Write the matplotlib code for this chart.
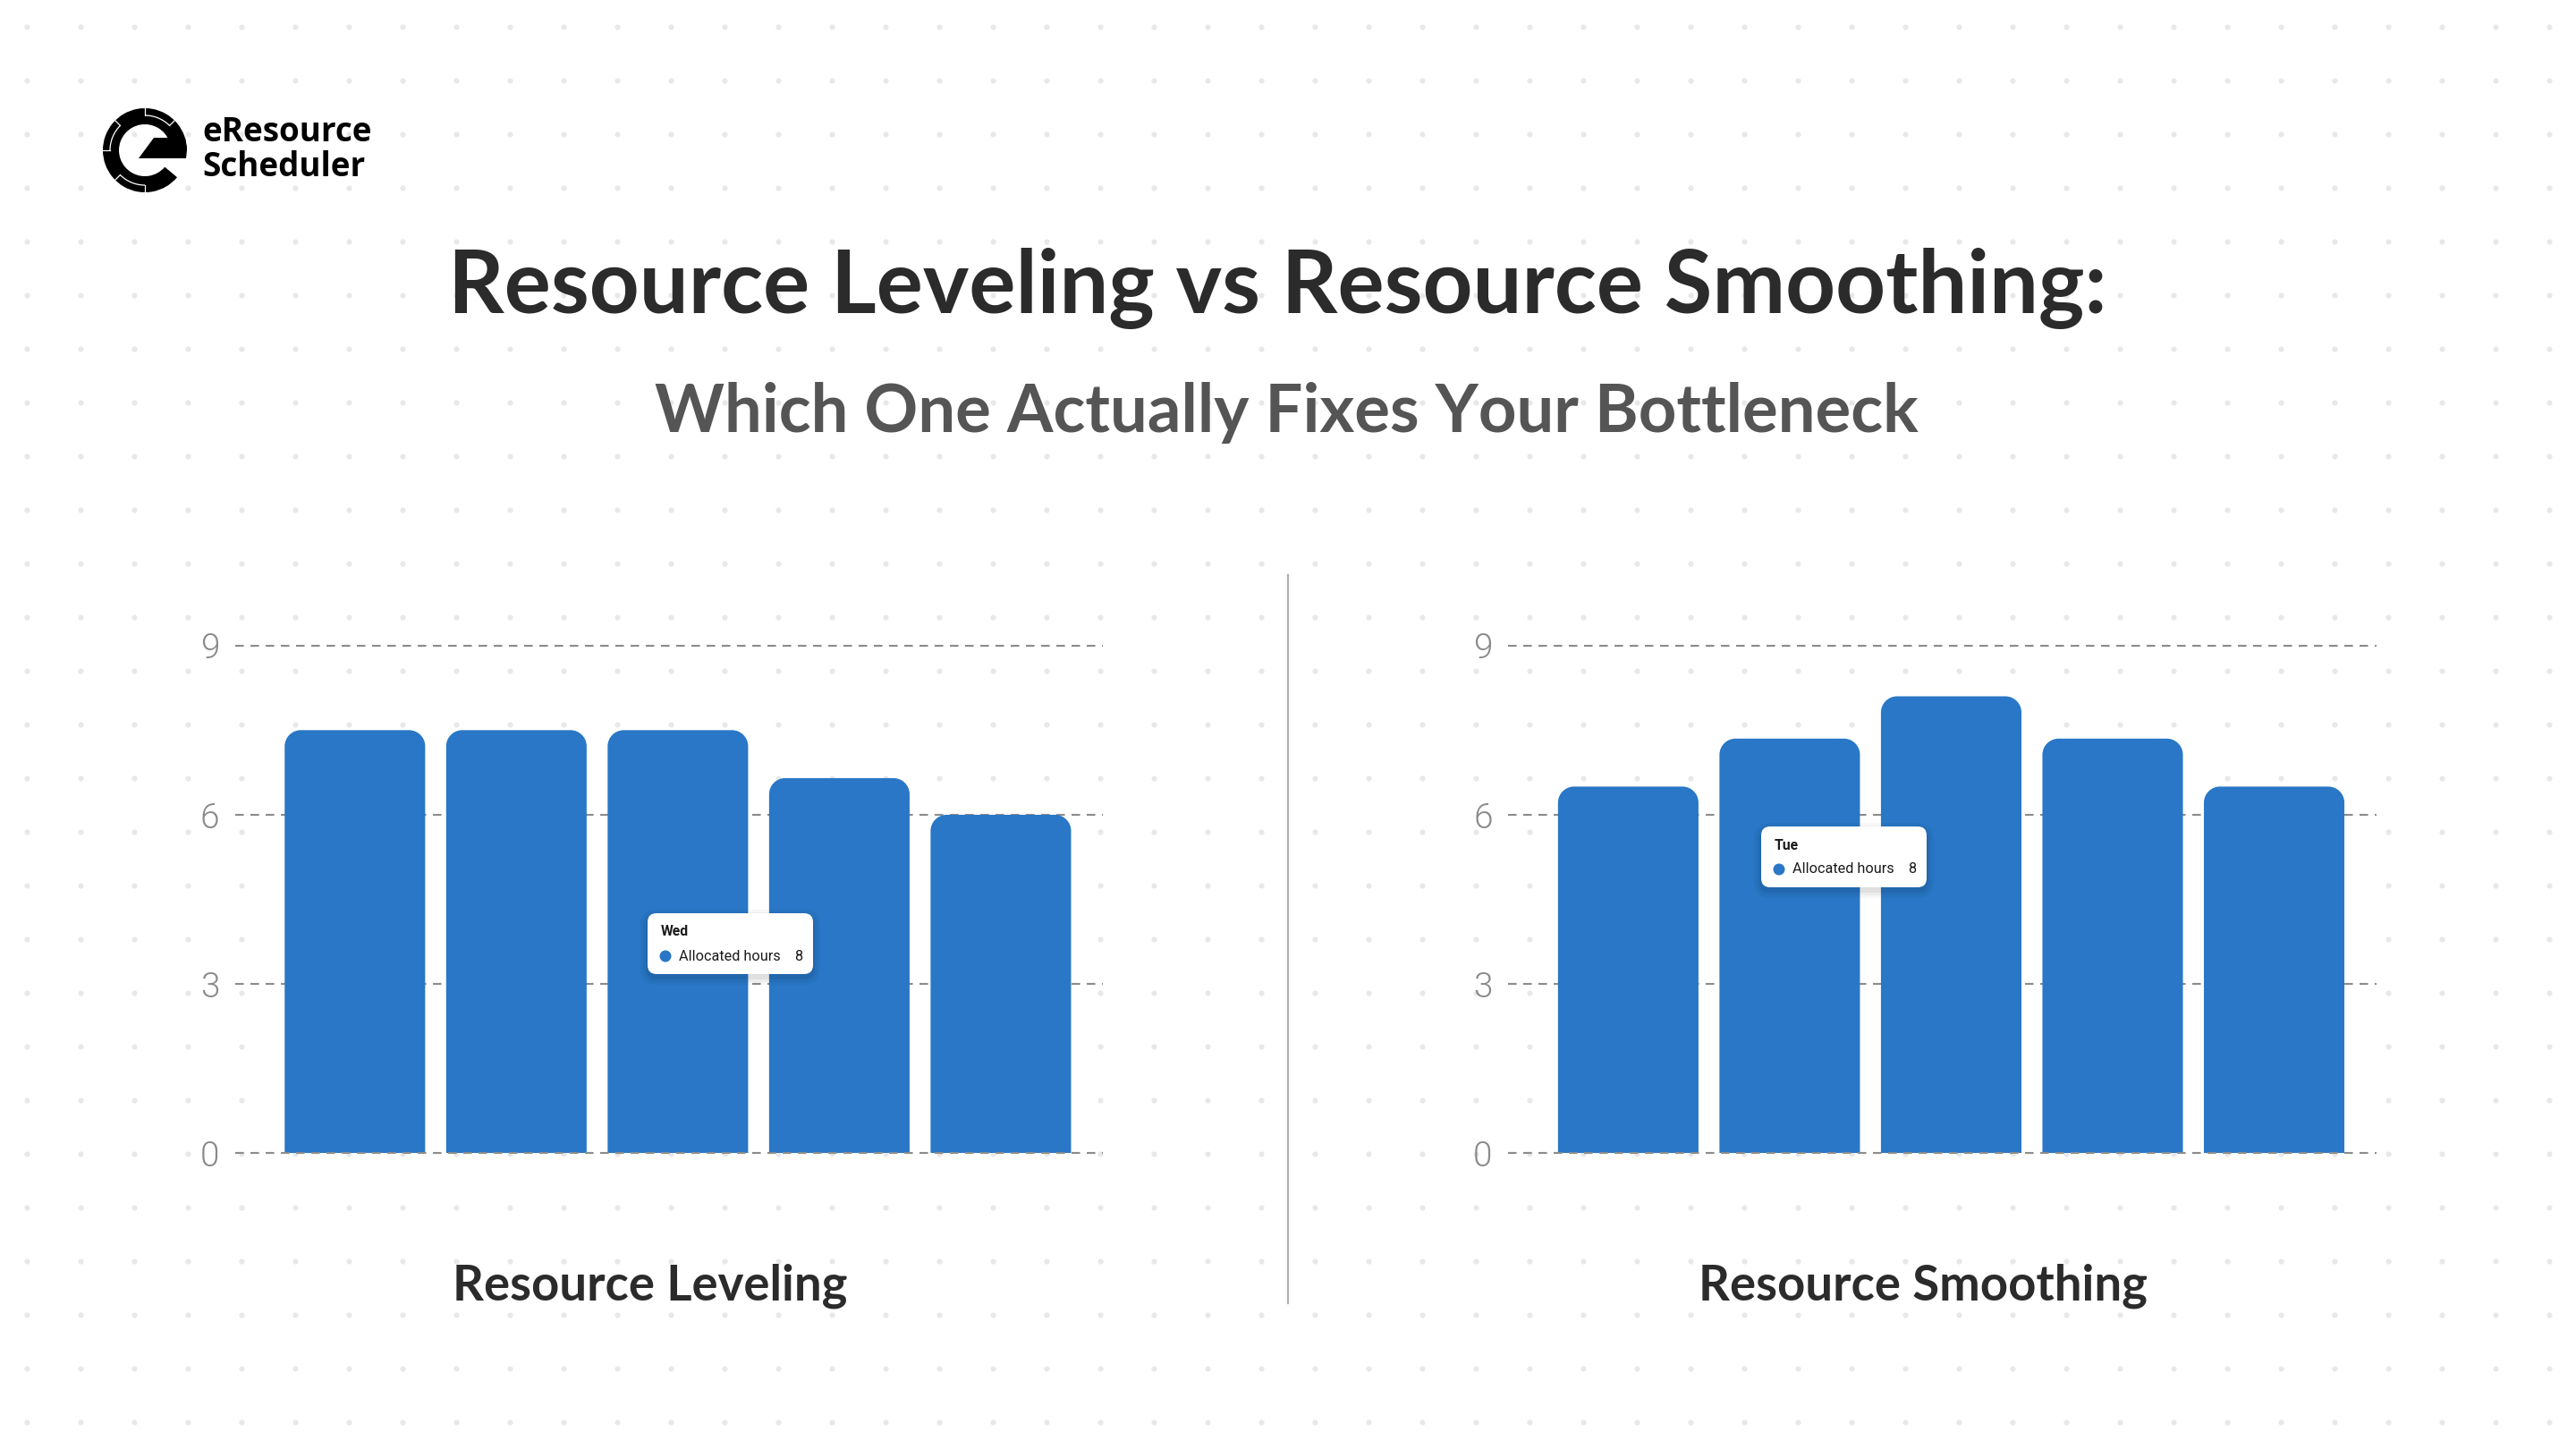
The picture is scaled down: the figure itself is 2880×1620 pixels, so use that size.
import matplotlib
matplotlib.use('Agg')
import matplotlib.pyplot as plt
from matplotlib.patches import FancyBboxPatch, PathPatch, Wedge, Polygon, Arc, Circle
from matplotlib.path import Path
import numpy as np

# data
days = ['Mon', 'Tue', 'Wed', 'Thu', 'Fri']
leveling_hours = [7.5, 7.5, 7.5, 6.65, 6.0]
smoothing_hours = [6.5, 7.35, 8.1, 7.35, 6.5]
y_ticks = [0, 3, 6, 9]
panel_titles = ['Resource Leveling', 'Resource Smoothing']
tooltip_days = ['Wed', 'Tue']
tooltip_values = [8, 8]
series_name = 'Allocated hours'

BLUE = '#2977c6'
GRID = '#8c8c8c'
DARK = '#2b2b2b'
FONT = 'Lato'

W, H = 2880, 1620
fig = plt.figure(figsize=(16, 9), dpi=180)

# background layer in pixel coords (dot grid, logo text, titles)
bg = fig.add_axes([0, 0, 1, 1], zorder=0)
bg.set_xlim(0, W)
bg.set_ylim(H, 0)
bg.axis('off')
gx, gy = np.meshgrid(np.arange(30, W, 60), np.arange(30, H, 60))
bg.scatter(gx.ravel(), gy.ravel(), s=6, color='#e8e8e8', linewidths=0)

bg.text(1428, 322, 'Resource Leveling vs Resource Smoothing:', ha='center', va='center',
        fontsize=39, fontweight='bold', color=DARK, family=FONT)
bg.text(1438, 462, 'Which One Actually Fixes Your Bottleneck', ha='center', va='center',
        fontsize=29.7, fontweight='bold', color='#555555', family=FONT)

bg.text(226, 158, 'eResource', ha='left', va='baseline', fontsize=14.7,
        fontweight='bold', color='black', family='Open Sans')
bg.text(226, 197, 'Scheduler', ha='left', va='baseline', fontsize=14.7,
        fontweight='bold', color='black', family='Open Sans')

# divider between the two charts
bg.plot([1440, 1440], [643, 1457], color='#b0b0b0', lw=0.9)

# logo mark
lg = fig.add_axes([110 / W, 1 - 220 / H, 104 / W, 104 / H], zorder=1)
lg.set_xlim(-52, 52)
lg.set_ylim(-52, 52)
lg.axis('off')
lg.add_patch(Wedge((0, 0), 47, 0, 320, width=18, facecolor='black', edgecolor='none'))
lg.add_patch(Polygon([(10, 14), (45, 14), (47, 0), (46, -9), (-7, -9)],
                     closed=True, facecolor='black', edgecolor='none'))
for a1, a2 in [(45, 90), (135, 180), (225, 270)]:
    lg.add_patch(Arc((0, 0), 78, 78, theta1=a1, theta2=a2, color='white', lw=0.5))
    for a in (a1, a2):
        t = np.radians(a)
        lg.plot([39 * np.cos(t), 47 * np.cos(t)], [39 * np.sin(t), 47 * np.sin(t)],
                color='white', lw=0.5)


def rounded_bars(ax, bars, r_px=18):
    p0 = ax.transData.transform((0, 0))
    p1 = ax.transData.transform((1, 1))
    rx = r_px / abs(p1[0] - p0[0])
    ry = r_px / abs(p1[1] - p0[1])
    k = 0.5523
    for b in bars:
        x0, w, h = b.get_x(), b.get_width(), b.get_height()
        x1 = x0 + w
        verts = [(x0, 0), (x0, h - ry),
                 (x0, h - ry + k * ry), (x0 + rx - k * rx, h), (x0 + rx, h),
                 (x1 - rx, h),
                 (x1 - rx + k * rx, h), (x1, h - ry + k * ry), (x1, h - ry),
                 (x1, 0), (x0, 0)]
        codes = [Path.MOVETO, Path.LINETO, Path.CURVE4, Path.CURVE4, Path.CURVE4,
                 Path.LINETO, Path.CURVE4, Path.CURVE4, Path.CURVE4,
                 Path.LINETO, Path.CLOSEPOLY]
        ax.add_patch(PathPatch(Path(verts, codes), facecolor=BLUE,
                               edgecolor='none', zorder=2))
        b.set_visible(False)


panels = [(0.0912, leveling_hours, 727), (0.5855, smoothing_hours, 2150)]
for (left, hours, cx), title in zip(panels, panel_titles):
    ax = fig.add_axes([left, 0.2041, 0.337, 0.3504], zorder=2)
    ax.patch.set_visible(False)
    ax.set_xlim(-0.743, 4.633)
    ax.set_ylim(0, 9)
    for s in ax.spines.values():
        s.set_visible(False)
    ax.set_xticks([])
    ax.set_yticks(y_ticks)
    ax.set_yticklabels([str(t) for t in y_ticks], family='Roboto', fontweight=300,
                       fontsize=15.5, color='#8a8a8a')
    ax.tick_params(axis='y', length=0, pad=7)
    for t in y_ticks:
        ax.axhline(t, color=GRID, lw=0.85, ls=(0, (4.5, 3.5)),
                   zorder=3 if t == 0 else 1, clip_on=False)
    bars = ax.bar(np.arange(len(days)), hours, width=0.87, color=BLUE)
    rounded_bars(ax, bars)
    bg.text(cx, 1438, title, ha='center', va='center', fontsize=21.8,
            fontweight='bold', color=DARK, family=FONT)

# tooltip overlay
ov = fig.add_axes([0, 0, 1, 1], zorder=5)
ov.set_xlim(0, W)
ov.set_ylim(H, 0)
ov.axis('off')


def tooltip(x, y, day, value):
    w, h = 185, 68
    for i, a in enumerate([0.05, 0.04, 0.03]):
        sp = 2 + 3 * i
        ov.add_patch(FancyBboxPatch((x - sp, y + 4 - sp), w + 2 * sp, h + 2 * sp,
                                    boxstyle='round,pad=0,rounding_size=%d' % (10 + sp),
                                    facecolor='black', edgecolor='none', alpha=a))
    ov.add_patch(FancyBboxPatch((x, y), w, h, boxstyle='round,pad=0,rounding_size=10',
                                facecolor='white', edgecolor='none'))
    ov.text(x + 15, y + 21, day, ha='left', va='center', fontsize=6.3,
            fontweight='bold', color='#1a1a1a', family='Roboto')
    ov.add_patch(Circle((x + 20, y + 48), 6.5, facecolor=BLUE, edgecolor='none'))
    ov.text(x + 35, y + 48, series_name, ha='left', va='center', fontsize=6.5,
            color='#1a1a1a', family='Roboto')
    ov.text(x + 169, y + 48, str(value), ha='center', va='center', fontsize=6.5,
            color='#1a1a1a', family='Roboto')


tooltip(724, 1021, tooltip_days[0], tooltip_values[0])
tooltip(1969, 924, tooltip_days[1], tooltip_values[1])

fig.savefig('out.png', dpi=180, facecolor='white')
